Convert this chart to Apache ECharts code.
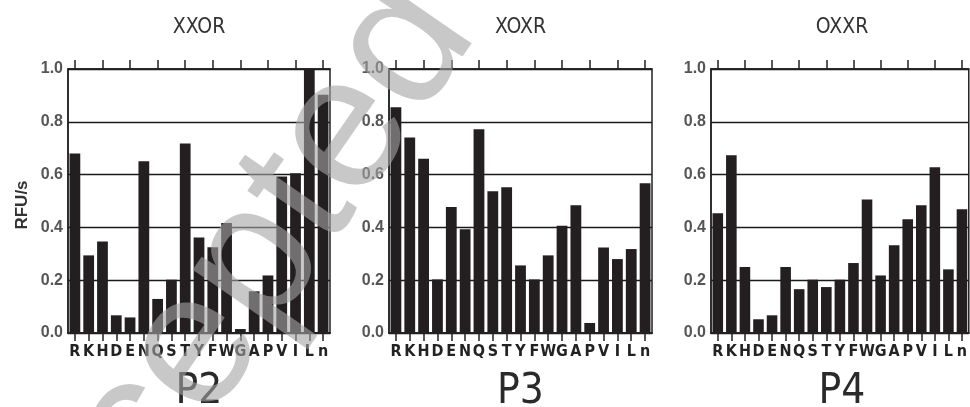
<!DOCTYPE html>
<html>
<head>
<meta charset="utf-8">
<script src="https://cdn.jsdelivr.net/npm/echarts@6/dist/echarts.min.js"></script>
<style>
html,body{margin:0;padding:0;background:#fff;}
#c{width:970px;height:407px;}
</style>
</head>
<body>
<div id="c"></div>
<script>
const categories = ['R','K','H','D','E','N','Q','S','T','Y','F','W','G','A','P','V','I','L','n'];
const panelTitles = ['XXOR','XOXR','OXXR'];
const panelLabels = ['P2','P3','P4'];
const yTicks = [0, 0.2, 0.4, 0.6, 0.8, 1.0];
const xxor = [0.68,0.294,0.347,0.067,0.059,0.651,0.129,0.202,0.718,0.362,0.325,0.417,0.015,0.158,0.218,0.593,0.605,1.0,0.902];
const xoxr = [0.855,0.741,0.66,0.203,0.477,0.393,0.772,0.537,0.552,0.256,0.203,0.294,0.406,0.484,0.038,0.324,0.28,0.318,0.567];
const oxxr = [0.454,0.673,0.25,0.052,0.067,0.25,0.166,0.202,0.174,0.202,0.265,0.506,0.218,0.332,0.431,0.484,0.628,0.241,0.469];
const seriesData = [xxor, xoxr, oxxr];

const chart = echarts.init(document.getElementById('c'), null, {renderer:'canvas'});
const lefts = [68, 389, 711];
const widths = [262, 263, 262];
const TOP = 69, H = 264;
const narrow = "'Liberation Sans Narrow','DejaVu Sans Condensed','Liberation Sans',sans-serif";

const grids = [], xAxes = [], yAxes = [], series = [], graphics = [];
for (let i = 0; i < 3; i++) {
  grids.push({left: lefts[i], top: TOP, width: widths[i], height: H, show: true,
    borderColor: '#222', borderWidth: 1.5, backgroundColor: 'transparent'});
  xAxes.push({type:'category', gridIndex:i, data: categories, position:'bottom',
    axisLine:{show:true, lineStyle:{color:'#222', width:2}},
    axisTick:{show:true, alignWithLabel:true, length:8, lineStyle:{color:'#222', width:1.5}},
    axisLabel:{show:true, interval:0, margin:11, color:'#222', fontWeight:'bold',
      fontSize:16, fontFamily: narrow}});
  xAxes.push({type:'category', gridIndex:i, data: categories, position:'top',
    axisLine:{show:true, lineStyle:{color:'#222', width:1.5}},
    axisTick:{show:true, alignWithLabel:true, length:9, lineStyle:{color:'#222', width:1.5}},
    axisLabel:{show:false}});
  yAxes.push({type:'value', gridIndex:i, min: yTicks[0], max: yTicks[yTicks.length-1], interval:0.2,
    axisLine:{show:true, lineStyle:{color:'#222', width:1.5}},
    axisTick:{show:false},
    splitLine:{show:true, lineStyle:{color:'#1a1a1a', width:1.3}},
    axisLabel:{show:true, margin:5, color:'#555', fontWeight:'bold', fontSize:16,
      fontFamily:"'Liberation Sans','Arial',sans-serif",
      formatter: v => v.toFixed(1)}});
  series.push({type:'bar', xAxisIndex: i*2, yAxisIndex: i, data: seriesData[i],
    barWidth:'78%', itemStyle:{color:'#231f20'}, silent:true, animation:false});
  const cx = lefts[i] + widths[i]/2;
  graphics.push({type:'text', style:{text: panelTitles[i], x: cx, y: 28, textAlign:'center', textVerticalAlign:'middle',
    font: "21px " + narrow, fill:'#333'}});
  graphics.push({type:'text', style:{text: panelLabels[i], x: cx, y: 392,
    textAlign:'center', textVerticalAlign:'middle',
    font: "42px " + narrow, fill:'#2a2a2a'}});
}
graphics.push({type:'text', style:{text:'RFU/s', x:0, y:0, textAlign:'center', textVerticalAlign:'middle',
  font:"bold 17px 'Liberation Sans',Arial,sans-serif", fill:'#333'}, x:22, y:205, rotation: Math.PI/2});
graphics.push({type:'text', z: 100, style:{text:'Accepted', x:0, y:0, textAlign:'center', textVerticalAlign:'middle',
  font:"190px 'Liberation Sans',Arial,sans-serif", fill:'rgba(163,163,163,0.6)'}, x:210, y:329, rotation: 0.965});

chart.setOption({
  animation:false,
  grid: grids, xAxis: xAxes, yAxis: yAxes, series: series, graphic: graphics
});
</script>
</body>
</html>
